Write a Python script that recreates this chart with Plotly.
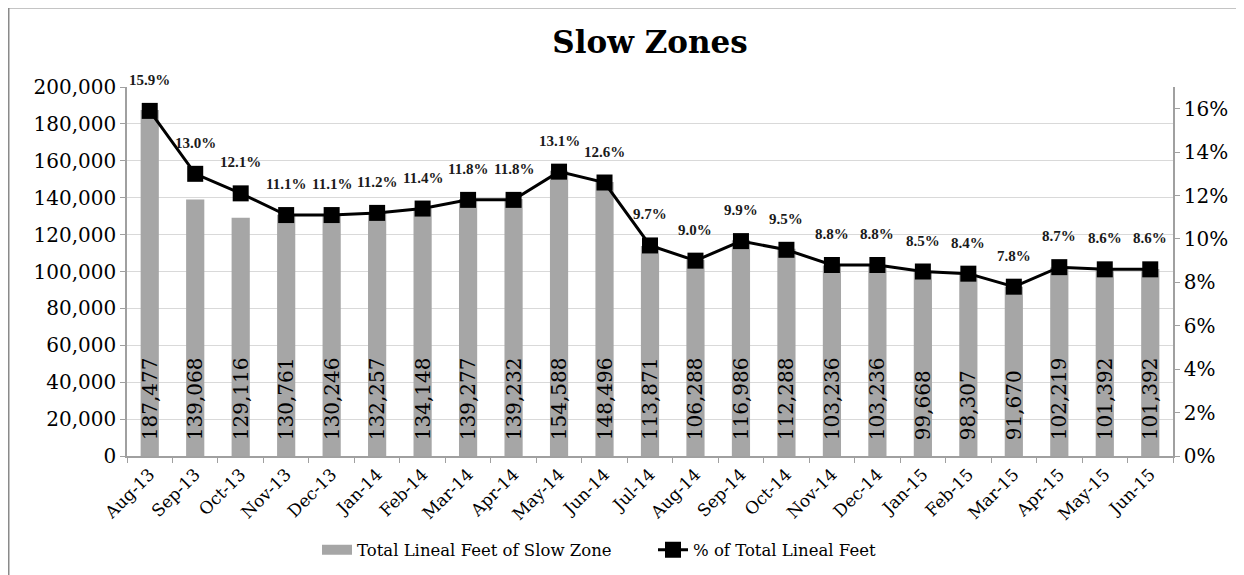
import plotly.graph_objects as go

months = ["Aug-13", "Sep-13", "Oct-13", "Nov-13", "Dec-13", "Jan-14", "Feb-14", "Mar-14",
          "Apr-14", "May-14", "Jun-14", "Jul-14", "Aug-14", "Sep-14", "Oct-14", "Nov-14",
          "Dec-14", "Jan-15", "Feb-15", "Mar-15", "Apr-15", "May-15", "Jun-15"]
lineal_feet = [187477, 139068, 129116, 130761, 130246, 132257, 134148, 139277, 139232,
               154588, 148496, 113871, 106288, 116986, 112288, 103236, 103236, 99668,
               98307, 91670, 102219, 101392, 101392]
pct_total = [15.9, 13.0, 12.1, 11.1, 11.1, 11.2, 11.4, 11.8, 11.8, 13.1, 12.6, 9.7,
             9.0, 9.9, 9.5, 8.8, 8.8, 8.5, 8.4, 7.8, 8.7, 8.6, 8.6]
pct_frac = [p / 100 for p in pct_total]

SERIF = "DejaVu Serif"
BAR_COLOR = "#a6a6a6"
OFF = 8  # page body margin
W, H = 1236, 567
L, R, T, B = 119, 71, 79, 119
pw = W - L - R
ph = H - T - B


def sx(v):  # screen x -> paper
    return (v - OFF - L) / pw


def sy(v):  # screen y -> paper
    return (H - B - (v - OFF)) / ph


fig = go.Figure()
fig.add_trace(go.Bar(
    x=months, y=lineal_feet, name="Total Lineal Feet of Slow Zone",
    marker=dict(color=BAR_COLOR, line=dict(width=0)),
    texttemplate="\u00a0\u00a0%{y:,}", textposition="inside", insidetextanchor="start",
    textangle=-90, textfont=dict(family=SERIF, size=20, color="black"),
    yaxis="y", showlegend=False,
))
# legend swatch for the bar series (wide grey block like the original)
fig.add_trace(go.Scatter(
    x=[None], y=[None], name="Total Lineal Feet of Slow Zone", mode="lines",
    line=dict(color=BAR_COLOR, width=12), yaxis="y", showlegend=True,
))
fig.add_trace(go.Scatter(
    x=months, y=pct_frac, name="% of Total Lineal Feet",
    mode="lines+markers",
    line=dict(color="black", width=3),
    marker=dict(symbol="square", size=16, color="black"),
    yaxis="y2",
))

annotations = []
for m, p in zip(months, pct_total):
    annotations.append(dict(
        x=m, y=p / 100, xref="x", yref="y2", text=f"{p:.1f}%", showarrow=False,
        yshift=31, font=dict(family="Liberation Serif", size=15, color="#1a1a1a", weight="bold"),
    ))

fig.update_layout(
    width=W, height=H,
    margin=dict(l=L, r=R, t=T, b=B, autoexpand=False),
    paper_bgcolor="white", plot_bgcolor="white",
    title=dict(text="<b>Slow Zones</b>", x=(650 - OFF) / W, xanchor="center",
               y=1 - (42 - OFF) / H, yanchor="middle",
               font=dict(family=SERIF, size=31, color="black")),
    bargap=0.6,
    showlegend=True,
    legend=dict(orientation="h", x=sx(317), xanchor="left", y=sy(550), yanchor="middle",
                font=dict(family=SERIF, size=16.5, color="black"), entrywidth=291,
                traceorder="normal"),
    uniformtext=dict(minsize=20, mode="show"),
    annotations=annotations,
    xaxis=dict(range=[-0.5, len(months) - 0.5],
               tickangle=-45, tickfont=dict(family=SERIF, size=17, color="black"),
               showline=True, linecolor="#a0a0a0", linewidth=1.5,
               ticks="outside", tickson="boundaries", ticklen=5, tickcolor="#a0a0a0",
               showgrid=False, automargin=False),
    yaxis=dict(range=[0, 200000], dtick=20000, tickformat=",",
               tickfont=dict(family=SERIF, size=20, color="black"),
               showline=True, linecolor="#a0a0a0", linewidth=1.5,
               ticks="outside", ticklen=5, tickcolor="#a0a0a0",
               gridcolor="#d9d9d9", gridwidth=1, zeroline=False, automargin=False),
    yaxis2=dict(range=[0, 0.17], dtick=0.02, tickformat=".0%", overlaying="y", side="right",
                tickfont=dict(family=SERIF, size=20, color="black"),
                showline=True, linecolor="#a0a0a0", linewidth=1.5,
                ticks="outside", ticklen=5, tickcolor="#a0a0a0",
                showgrid=False, zeroline=False, automargin=False),
    shapes=[dict(type="rect", xref="paper", yref="paper",
                 x0=sx(8.5), x1=sx(1270), y0=sy(7.5), y1=sy(600),
                 line=dict(color="#8a8a8a", width=2), fillcolor="rgba(0,0,0,0)", layer="below")],
)

fig.write_html("out.html")
